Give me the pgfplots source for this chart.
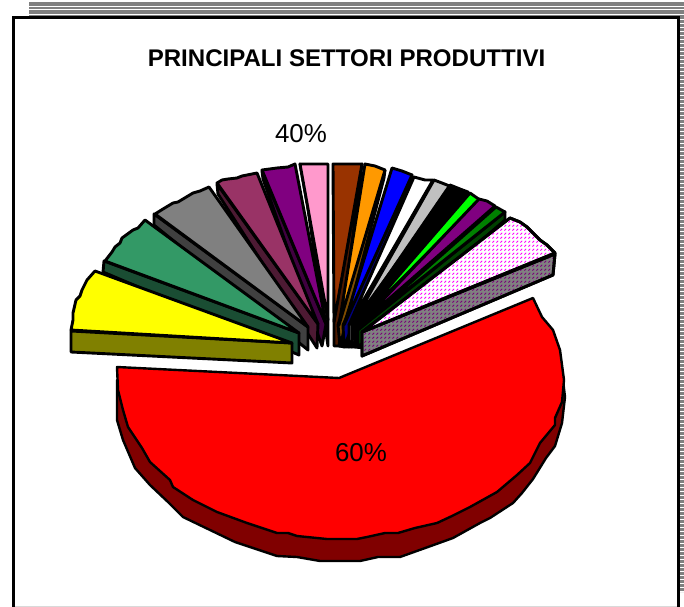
\documentclass[border=0pt]{standalone}
\usepackage{fontspec}
\setmainfont{Liberation Sans}
\usepackage{pgfplots}
\pgfplotsset{compat=1.18}
\usetikzlibrary{patterns}
\definecolor{ff99cc}{HTML}{FF99CC}
\definecolor{400040}{HTML}{400040}
\definecolor{800080}{HTML}{800080}
\definecolor{4d1a33}{HTML}{4D1A33}
\definecolor{993366}{HTML}{993366}
\definecolor{404040}{HTML}{404040}
\definecolor{808080}{HTML}{808080}
\definecolor{1a4d33}{HTML}{1A4D33}
\definecolor{339966}{HTML}{339966}
\definecolor{808000}{HTML}{808000}
\definecolor{4d1a00}{HTML}{4D1A00}
\definecolor{993300}{HTML}{993300}
\definecolor{804d00}{HTML}{804D00}
\definecolor{ff9900}{HTML}{FF9900}
\definecolor{000080}{HTML}{000080}
\definecolor{606060}{HTML}{606060}
\definecolor{silver}{HTML}{C0C0C0}
\definecolor{004000}{HTML}{004000}
\definecolor{008000}{HTML}{008000}
\definecolor{800000}{HTML}{800000}
\definecolor{stripe}{HTML}{808080}
\definecolor{lime}{HTML}{00FF00}
\definecolor{pure}{HTML}{FF0000}
\definecolor{pureblue}{HTML}{0000FF}
\definecolor{mag}{HTML}{FF00FF}
\definecolor{pureyellow}{HTML}{FFFF00}
\definecolor{darkmag}{HTML}{7A007A}
\pgfdeclarepatternformonly{dashdiag}{\pgfqpoint{0bp}{0bp}}{\pgfqpoint{4bp}{4bp}}{\pgfqpoint{4bp}{4bp}}{%
  \pgfsetlinewidth{1.05bp}\pgfpathmoveto{\pgfqpoint{0.5bp}{0.5bp}}\pgfpathlineto{\pgfqpoint{2.7bp}{2.7bp}}\pgfusepath{stroke}}
\tikzset{sl/.style={draw=black,line width=2.9bp,line join=round,fill=#1}}
\begin{document}
\begin{tikzpicture}
\begin{axis}[scale only axis,width=684bp,height=607bp,xmin=0,xmax=684,ymin=0,ymax=607,y dir=reverse,axis lines=none,clip=true]
% page ground
\addplot[fill=white,draw=none] coordinates {(0,0)(684,0)(684,607)(0,607)} --cycle;
% top stripes
\addplot[draw=none,fill=stripe] coordinates {(29,2)(684,2)(684,5.6)(29,5.6)} --cycle;
\addplot[draw=none,fill=stripe] coordinates {(29,6.6)(684,6.6)(684,9.2)(29,9.2)} --cycle;
\addplot[draw=none,fill=stripe] coordinates {(29,10.2)(684,10.2)(684,14)(29,14)} --cycle;
\addplot[draw=none,fill=stripe] coordinates {(29,15)(684,15)(684,16.5)(29,16.5)} --cycle;
% right stripes
\addplot[draw=stripe,line width=4.5bp,dash pattern=on 3bp off 1bp] coordinates {(682,16)(682,592)};
% bottom line and frame
\addplot[draw=black!15,line width=1bp] coordinates {(14,606.3)(678,606.3)};
\addplot[draw=black,line width=3bp] coordinates {(13.5,607)(13.5,17.5)(678.5,17.5)(678.5,607)};
% left slices, back to front
\addplot[sl=ff99cc!50!black] coordinates {(300,164)(303,175)(328,346)(328,320)} --cycle;
\addplot[sl=ff99cc] coordinates {(300,164)(328,164)(328,320)} --cycle;
\addplot[sl=400040] coordinates {(262,171)(263,179)(322,346)(326,324)} --cycle;
\addplot[sl=800080] coordinates {(262,170)(277,168)(288,167)(295,164)(326,324)} --cycle;
\addplot[sl=4d1a33] coordinates {(217,184)(218,194)(317,348)(318,324)} --cycle;
\addplot[sl=993366] coordinates {(217,183)(222,180)(228,179)(237,178)(242,176)(247,175)(257,173)(318,324)} --cycle;
\addplot[sl=404040] coordinates {(154,214)(154,225)(308,350)(308,327)} --cycle;
\addplot[sl=808080] coordinates {(155,214)(163,209)(173,203)(178,202)(183,199)(193,193)(200,191)(209,187)(308,327)} --cycle;
\addplot[sl=1a4d33] coordinates {(104,261)(103,272)(299,355)(299,333)} --cycle;
\addplot[sl=339966] coordinates {(105,261)(112,252)(115,247)(120,243)(122,238)(133,230)(138,228)(145,220)(299,333)} --cycle;
\addplot[sl=808000] coordinates {(71,331)(292,343)(292,363)(71,352)} --cycle;
\addplot[sl=pureyellow] coordinates {(71,330)(73,320)(73,313)(76,300)(80,296)(82,290)(87,280)(95,271)(292,343)} --cycle;
% right slices
\addplot[sl=black] coordinates {(339,346)(345,347)(355,347)(365,348)(362,330)(339,325)} --cycle;
\addplot[sl=4d1a00] coordinates {(362,164)(339,346)(334,346)(334,320)} --cycle;
\addplot[sl=993300] coordinates {(333,164)(362,164)(334,322)} --cycle;
\addplot[sl=804d00] coordinates {(385,170)(384,178)(340,346)(338,325)} --cycle;
\addplot[sl=ff9900] coordinates {(365,164)(375,166)(385,170)(339,325)} --cycle;
\addplot[sl=000080] coordinates {(412,175)(411,180)(344,347)(343,325)} --cycle;
\addplot[sl=pureblue] coordinates {(392,168)(402,171)(412,175)(344,325)} --cycle;
\addplot[sl=808080] coordinates {(432,181)(431,186)(349,347)(349,325)} --cycle;
\addplot[sl=white] coordinates {(414,177)(425,180)(433,180)(349,325)} --cycle;
\addplot[sl=606060] coordinates {(450,187)(449,192)(352,347)(352,325)} --cycle;
\addplot[sl=silver] coordinates {(434,180)(442,183)(452,187)(352,325)} --cycle;
\addplot[sl=black] coordinates {(450,185)(460,189)(468,192)(470,198)(355,347)(354,325)} --cycle;
\addplot[sl=black] coordinates {(480,200)(479,206)(358,347)(356,325)} --cycle;
\addplot[sl=lime] coordinates {(470,193)(480,200)(356,325)} --cycle;
\addplot[sl=800080] coordinates {(479,199)(487,201)(495,206)(358,326)} --cycle;
\addplot[sl=004000] coordinates {(505,212)(505,220)(358,347)(358,330)} --cycle;
\addplot[sl=008000] coordinates {(496,207)(505,212)(359,328)} --cycle;
% hatched slice
\addplot[sl=808080,postaction={pattern=dashdiag,pattern color=darkmag}] coordinates {(555,254)(553,275)(362,356)(362,332)} --cycle;
\addplot[sl=white,postaction={pattern=dashdiag,pattern color=mag}] coordinates {(510,218)(520,222)(527,227)(540,240)(547,245)(555,253)(362,332)} --cycle;
% red slice
\addplot[draw=black,line width=2.4bp,line join=round,fill=800000] coordinates {(117,380)(117,420)(123,440)(135,468)(150,485)(168,502)(183,517)(235,542)(277,556)(297,557)(320,561)(360,561)(378,557)(400,557)(428,547)(453,538)(480,523)(490,518)(513,503)(522,493)(533,479)(546,458)(555,446)(562,423)(565,397)(563,380)} --cycle;
\addplot[draw=black,line width=2.4bp,line join=round,fill=pure] coordinates {(117,367)(339,378)(533,298)(542,317)(553,330)(560,350)(564,380)(562,402)(555,418)(555,425)(540,443)(530,463)(517,475)(497,492)(470,507)(452,516)(437,523)(415,528)(398,533)(385,533)(367,537)(357,539)(327,539)(317,538)(297,536)(288,533)(277,533)(247,523)(217,512)(193,500)(173,487)(170,480)(150,462)(142,448)(128,427)(123,410)(118,390)} --cycle;
% texts
\node[font=\fontsize{24.15}{28}\selectfont\bfseries,inner sep=0pt] at (axis cs:346.5,58) {PRINCIPALI SETTORI PRODUTTIVI};
\node[font=\fontsize{26}{30}\selectfont,inner sep=0pt] at (axis cs:301,134) {40\%};
\node[font=\fontsize{26}{30}\selectfont,inner sep=0pt] at (axis cs:361,453) {60\%};
\end{axis}
\end{tikzpicture}
\end{document}
